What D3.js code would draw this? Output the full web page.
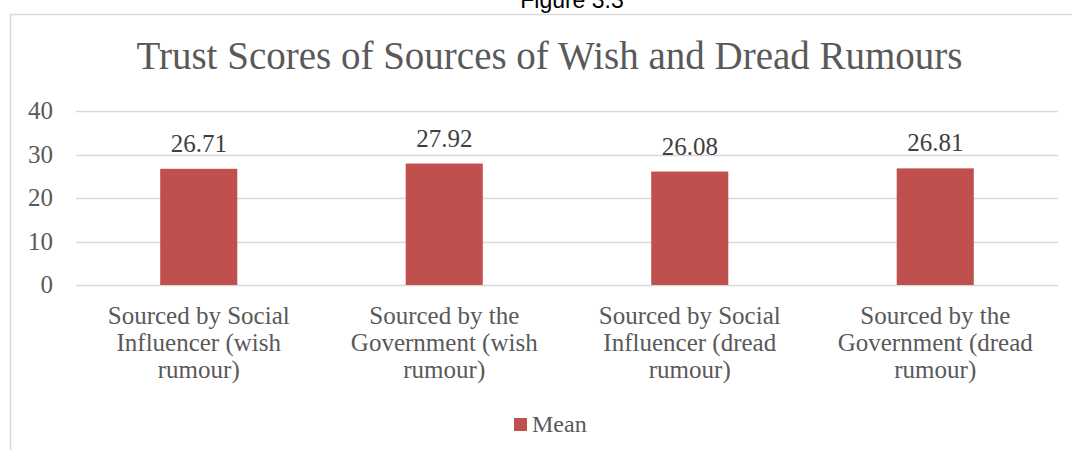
<!DOCTYPE html>
<html>
<head>
<meta charset="utf-8">
<script src="https://cdn.jsdelivr.net/npm/d3@7"></script>
<style>
  body { margin: 0; background: #fff; }
  text { font-family: "Liberation Serif", serif; }
</style>
</head>
<body>
<div id="chart"></div>
<script>
// data
var categories = [
  ["Sourced by Social", "Influencer (wish", "rumour)"],
  ["Sourced by the", "Government (wish", "rumour)"],
  ["Sourced by Social", "Influencer (dread", "rumour)"],
  ["Sourced by the", "Government (dread", "rumour)"]
];
var means = [26.71, 27.92, 26.08, 26.81];
var yTicks = [0, 10, 20, 30, 40];
var seriesName = "Mean";
var title = "Trust Scores of Sources of Wish and Dread Rumours";

var width = 1072, height = 450;
var plot = { left: 76, right: 1058, top: 111, bottom: 285 };
var barColor = "#C0504D";

var svg = d3.select("#chart").append("svg")
    .attr("width", width)
    .attr("height", height);

// caption above the frame, mostly cut off
svg.append("text")
    .attr("x", 572).attr("y", 8)
    .attr("text-anchor", "middle")
    .style("font-family", "'Liberation Sans', sans-serif")
    .style("font-size", "23px")
    .attr("fill", "#000")
    .text("Figure 3.3");

// chart frame (only top and left visible)
svg.append("path")
    .attr("d", "M10.5,460V14.5H1080")
    .attr("fill", "none")
    .attr("stroke", "#d9d9d9")
    .attr("stroke-width", 1.5);

svg.append("text")
    .attr("x", 549.5).attr("y", 69)
    .attr("text-anchor", "middle")
    .style("font-size", "39px")
    .attr("fill", "#595959")
    .text(title);

var x = d3.scaleBand()
    .domain(d3.range(categories.length))
    .range([plot.left, plot.right])
    .paddingInner(0.686)
    .paddingOuter(0.343);

var y = d3.scaleLinear()
    .domain([0, 40])
    .range([plot.bottom, plot.top]);

// gridlines
svg.append("g")
    .selectAll("line")
    .data(yTicks)
    .enter().append("line")
    .attr("x1", plot.left).attr("x2", plot.right)
    .attr("y1", function(d) { return Math.round(y(d)) + 0.5; })
    .attr("y2", function(d) { return Math.round(y(d)) + 0.5; })
    .attr("stroke", "#d9d9d9")
    .attr("stroke-width", 1.5);

// y tick labels
svg.append("g")
    .selectAll("text")
    .data(yTicks)
    .enter().append("text")
    .attr("x", 53)
    .attr("y", function(d) { return y(d) + 8; })
    .attr("text-anchor", "end")
    .style("font-size", "25px")
    .attr("fill", "#595959")
    .text(function(d) { return d; });

// bars
svg.append("g")
    .selectAll("rect")
    .data(means)
    .enter().append("rect")
    .attr("x", function(d, i) { return x(i); })
    .attr("y", function(d) { return y(d); })
    .attr("width", x.bandwidth())
    .attr("height", function(d) { return y(0) - y(d); })
    .attr("fill", barColor);

// value labels
svg.append("g")
    .selectAll("text")
    .data(means)
    .enter().append("text")
    .attr("x", function(d, i) { return x(i) + x.bandwidth() / 2; })
    .attr("y", function(d) { return y(d) - 17; })
    .attr("text-anchor", "middle")
    .style("font-size", "25px")
    .attr("fill", "#404040")
    .text(function(d) { return d.toFixed(2); });

// category labels
var cat = svg.append("g")
    .selectAll("text")
    .data(categories)
    .enter().append("text")
    .attr("text-anchor", "middle")
    .style("font-size", "25px")
    .attr("fill", "#595959");

cat.selectAll("tspan")
    .data(function(d, i) { return d.map(function(s) { return { s: s, i: i }; }); })
    .enter().append("tspan")
    .attr("x", function(d) { return x(d.i) + x.bandwidth() / 2; })
    .attr("y", function(d, j) { return 324 + j * 27; })
    .text(function(d) { return d.s; });

// legend
svg.append("rect")
    .attr("x", 514).attr("y", 418)
    .attr("width", 13).attr("height", 13)
    .attr("fill", barColor);

svg.append("text")
    .attr("x", 532).attr("y", 432)
    .style("font-size", "24px")
    .attr("fill", "#595959")
    .text(seriesName);
</script>
</body>
</html>
